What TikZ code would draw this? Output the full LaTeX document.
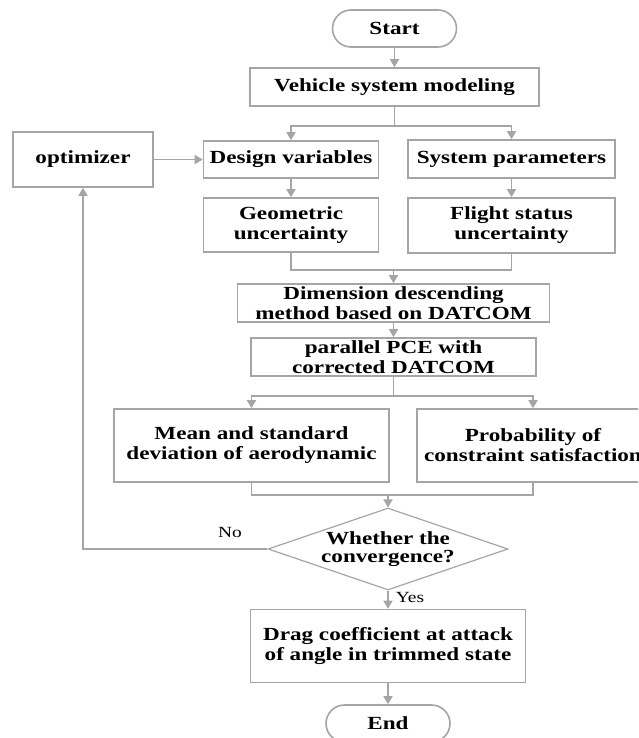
\documentclass[tikz,border=0pt]{standalone}
\usepackage{fontspec}
\setmainfont{Liberation Serif}[FakeStretch=1.25]
\usetikzlibrary{arrows.meta,shapes.geometric}
\definecolor{lg}{RGB}{165,165,165}
\begin{document}
\begin{tikzpicture}[x=1pt,y=-1pt,
  box/.style={draw=lg, line width=1.6pt, fill=white, inner sep=0pt, align=center,
    font=\bfseries\fontsize{18.5}{20}\selectfont},
  term/.style={box, rounded corners=18.5pt, minimum width=124pt, minimum height=37pt},
  ln/.style={draw=lg, line width=1.6pt},
  arr/.style={ln, -{Triangle[length=8pt,width=9pt]}},
  lbl/.style={inner sep=0pt, font=\fontsize{15.5}{16}\selectfont}]
\useasboundingbox (0,0) rectangle (638,738);
\clip (0,0) rectangle (638,738);

\node[term] (start) at (394.5,28.5) {Start};
\node[box, minimum width=289pt, minimum height=38pt] (vehicle) at (394.5,87) {Vehicle system modeling};
\node[box, minimum width=140pt, minimum height=55pt] (optimizer) at (83,159.5) {optimizer};
\node[box, minimum width=175pt, minimum height=37pt] (design) at (291,159.5) {Design variables};
\node[box, minimum width=207pt, minimum height=38pt] (system) at (511.5,159) {System parameters};
\node[box, minimum width=175pt, minimum height=54pt] (geometric) at (291,225) {Geometric\\uncertainty};
\node[box, minimum width=207pt, minimum height=55pt] (flight) at (511.5,225.5) {Flight status\\uncertainty};
\node[box, minimum width=312pt, minimum height=38pt] (dimension) at (393.5,303) {Dimension descending\\method based on DATCOM};
\node[box, minimum width=285pt, minimum height=38pt] (pce) at (393.5,357) {parallel PCE with\\corrected DATCOM};
\node[box, minimum width=275pt, minimum height=73pt] (mean) at (251.5,445.5) {Mean and standard\\deviation of aerodynamic};
\node[box, minimum width=232pt, minimum height=73pt] (prob) at (533,445.5) {Probability of\\constraint satisfaction};
\node[draw=lg, line width=1.2pt, diamond, aspect=2.93, inner sep=0pt,
  minimum width=240pt, minimum height=82pt, align=center,
  font=\bfseries\fontsize{18.5}{18}\selectfont] (decision) at (388,549) {Whether the\\convergence?};
\node[box, minimum width=275pt, minimum height=73pt] (drag) at (388,646) {Drag coefficient at attack\\of angle in trimmed state};
\node[term] (end) at (388,723.5) {End};

\node[lbl] (no) at (230,532) {No};
\node[lbl] (yes) at (410,597) {Yes};

\coordinate (s1) at (394.5,126);
\coordinate (j1) at (393.5,270);
\coordinate (j2) at (393.5,396);
\coordinate (j3) at (388,495);

\draw[arr] (start.south) -- (vehicle.north);
\draw[ln] (vehicle.south) -- (s1);
\draw[arr] (s1) -| (design.north);
\draw[arr] (s1) -| (system.north);
\draw[arr] (optimizer.east) -- (design.west);
\draw[arr] (design.south) -- (geometric.north);
\draw[arr] (system.south) -- (flight.north);
\draw[ln] (geometric.south) |- (j1);
\draw[ln] (flight.south) |- (j1);
\draw[arr] (j1) -- (dimension.north);
\draw[arr] (dimension.south) -- (pce.north);
\draw[ln] (pce.south) -- (j2);
\draw[arr] (j2) -| (mean.north);
\draw[arr] (j2) -| (prob.north);
\draw[ln] (mean.south) |- (j3);
\draw[ln] (prob.south) |- (j3);
\draw[arr] (j3) -- (decision.north);
\draw[arr] (decision.west) -| (optimizer.south);
\draw[arr] (decision.south) -- (drag.north);
\draw[arr] (drag.south) -- (end.north);
\end{tikzpicture}
\end{document}
